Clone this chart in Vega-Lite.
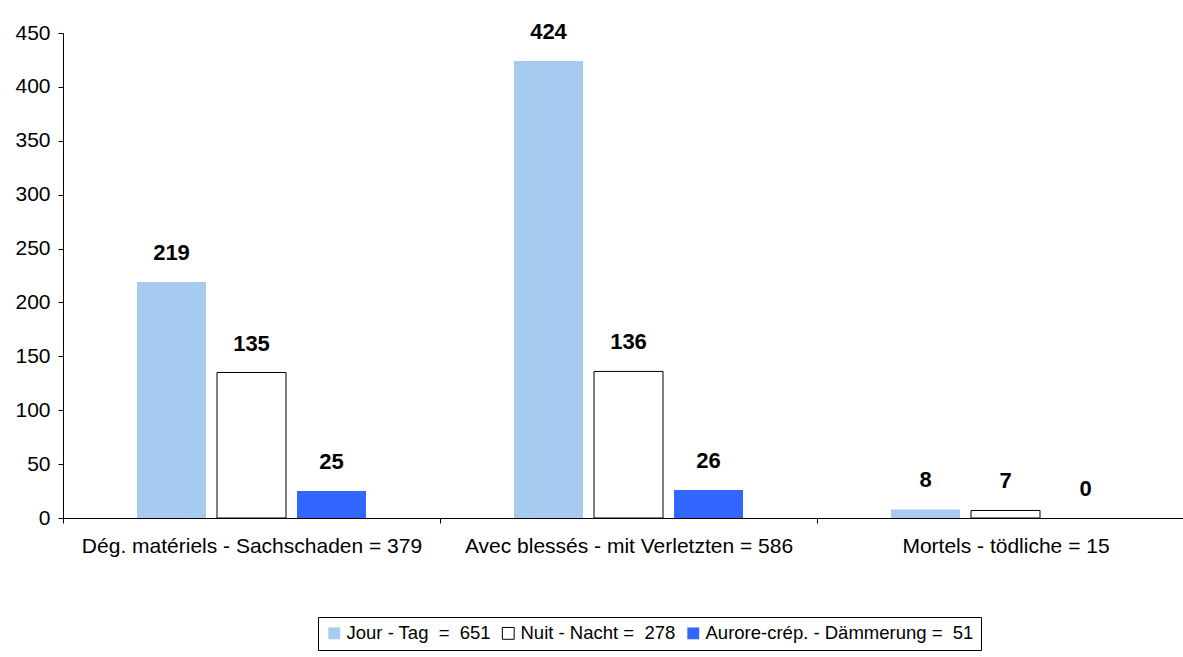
{
  "$schema": "https://vega.github.io/schema/vega-lite/v6.json",
  "autosize": {"type": "none"},
  "width": 1131,
  "height": 485,
  "padding": {"left": 63, "top": 33, "right": 0, "bottom": 139},
  "background": "white",
  "config": {
    "view": {"stroke": null},
    "font": "Liberation Sans",
    "axis": {"domainColor": "black", "tickColor": "black", "labelColor": "black", "grid": false, "title": null, "labelFont": "Liberation Sans"}
  },
  "data": {
    "values": [
      {"category": "Dég. matériels - Sachschaden = 379", "series": "Jour - Tag\u00a0 = \u00a0651", "value": 219},
      {"category": "Dég. matériels - Sachschaden = 379", "series": "Nuit - Nacht = \u00a0278", "value": 135},
      {"category": "Dég. matériels - Sachschaden = 379", "series": "Aurore-crép. - Dämmerung = \u00a051", "value": 25},
      {"category": "Avec blessés - mit Verletzten = 586", "series": "Jour - Tag\u00a0 = \u00a0651", "value": 424},
      {"category": "Avec blessés - mit Verletzten = 586", "series": "Nuit - Nacht = \u00a0278", "value": 136},
      {"category": "Avec blessés - mit Verletzten = 586", "series": "Aurore-crép. - Dämmerung = \u00a051", "value": 26},
      {"category": "Mortels - tödliche = 15", "series": "Jour - Tag\u00a0 = \u00a0651", "value": 8},
      {"category": "Mortels - tödliche = 15", "series": "Nuit - Nacht = \u00a0278", "value": 7},
      {"category": "Mortels - tödliche = 15", "series": "Aurore-crép. - Dämmerung = \u00a051", "value": 0}
    ]
  },
  "encoding": {
    "x": {
      "field": "category", "type": "nominal", "sort": null,
      "scale": {"paddingInner": 0, "paddingOuter": 0},
      "axis": {"labelAngle": 0, "tickBand": "extent", "labelFontSize": 21, "labelPadding": 12, "tickSize": 5, "labelLimit": 0}
    },
    "xOffset": {
      "field": "series", "type": "nominal", "sort": null,
      "scale": {"paddingInner": 0.1375, "paddingOuter": 0.925}
    },
    "y": {
      "field": "value", "type": "quantitative",
      "scale": {"domain": [0, 450], "nice": false},
      "axis": {"values": [0, 50, 100, 150, 200, 250, 300, 350, 400, 450], "labelFontSize": 21, "tickSize": 5, "labelPadding": 8}
    }
  },
  "layer": [
    {
      "mark": {"type": "bar", "strokeWidth": 1},
      "encoding": {
        "fill": {
          "field": "series", "type": "nominal", "sort": null,
          "scale": {"domain": ["Jour - Tag\u00a0 = \u00a0651", "Nuit - Nacht = \u00a0278", "Aurore-crép. - Dämmerung = \u00a051"], "range": ["#A6CAF0", "#FFFFFF", "#3366FF"]},
          "legend": {"orient": "none", "legendX": 255, "legendY": 584, "direction": "horizontal", "title": null, "symbolType": "square", "symbolSize": 140, "labelFontSize": 18.5, "labelColor": "black", "strokeColor": "black", "fillColor": "white", "padding": 7, "columnPadding": 8, "labelOffset": 3, "labelLimit": 0, "symbolStrokeWidth": 1}
        },
        "stroke": {
          "field": "series", "type": "nominal", "sort": null,
          "scale": {"domain": ["Jour - Tag\u00a0 = \u00a0651", "Nuit - Nacht = \u00a0278", "Aurore-crép. - Dämmerung = \u00a051"], "range": ["transparent", "#000000", "transparent"]},
          "legend": {"orient": "none", "legendX": 255, "legendY": 584, "direction": "horizontal", "title": null, "symbolType": "square", "symbolSize": 140, "labelFontSize": 18.5, "labelColor": "black", "strokeColor": "black", "fillColor": "white", "padding": 7, "columnPadding": 8, "labelOffset": 3, "labelLimit": 0, "symbolStrokeWidth": 1}
        }
      }
    },
    {
      "mark": {"type": "text", "dy": -22, "fontWeight": "bold", "fontSize": 22, "color": "black", "baseline": "alphabetic"},
      "encoding": {"text": {"field": "value", "type": "quantitative"}}
    }
  ]
}
